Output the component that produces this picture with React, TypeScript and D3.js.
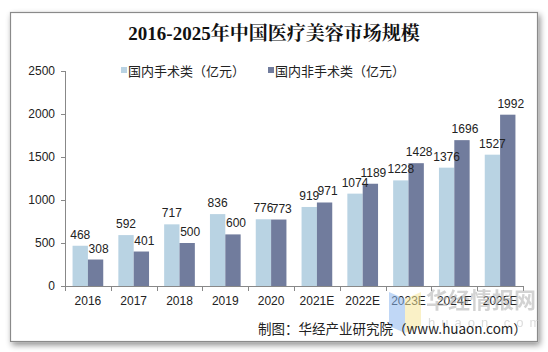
import React from "react";
import * as d3 from "d3";

const categories = ["2016", "2017", "2018", "2019", "2020", "2021E", "2022E", "2023E", "2024E", "2025E"];
const surgical = [468, 592, 717, 836, 776, 919, 1074, 1228, 1376, 1527];
const nonSurgical = [308, 401, 500, 600, 773, 971, 1189, 1428, 1696, 1992];
const yTicks = [0, 500, 1000, 1500, 2000, 2500];
const seriesNames = ["国内手术类（亿元）", "国内非手术类（亿元）"];
const colors = ["#b9d3e3", "#717c9d"];

export default function App() {
  const W = 548, H = 352;
  const left = 65, right = 523, top = 71, bottom = 286;
  const x = d3.scaleBand<string>().domain(categories).range([left, right]).paddingInner(0.33).paddingOuter(0.165);
  const y = d3.scaleLinear().domain([0, 2500]).range([bottom, top]);
  const bw = x.bandwidth() / 2;
  const step = (right - left) / categories.length;
  const font = "Arial, 'Liberation Sans', sans-serif";
  const cjk = "'Noto Sans CJK SC', sans-serif";
  return (
    <svg width={W} height={H} style={{ position: "absolute", left: 0, top: 0 }}>
      <defs>
        <filter id="sh" x="-5%" y="-5%" width="110%" height="115%">
          <feGaussianBlur in="SourceAlpha" stdDeviation="3" />
          <feOffset dx="2" dy="3" />
          <feComponentTransfer><feFuncA type="linear" slope="0.45" /></feComponentTransfer>
          <feMerge><feMergeNode /><feMergeNode in="SourceGraphic" /></feMerge>
        </filter>
      </defs>
      <rect x={0} y={0} width={W} height={H} fill="#fff" />
      <rect x={10.5} y={12.5} width={527} height={329} fill="#fff" stroke="#8a8a8a" strokeWidth={1.2} filter="url(#sh)" />
      <text x={274} y={40} textAnchor="middle" fontFamily="'Liberation Serif', 'Noto Serif CJK SC', 'Noto Sans CJK SC', serif" fontWeight="bold" fontSize={19} fill="#111">
        2016-2025年中国医疗美容市场规模
      </text>
      {/* legend */}
      {seriesNames.map((n, i) => (
        <g key={n} transform={`translate(${i === 0 ? 121 : 268},0)`}>
          <rect x={0} y={67} width={6} height={6} fill={colors[i]} />
          <text x={7} y={76} fontFamily={cjk} fontSize={13} fill="#222">{n}</text>
        </g>
      ))}
      {/* y axis */}
      <line x1={left + 0.5} x2={left + 0.5} y1={top} y2={bottom} stroke="#888" />
      {yTicks.map((t) => (
        <g key={t}>
          <line x1={left - 4} x2={left} y1={Math.round(y(t)) + 0.5} y2={Math.round(y(t)) + 0.5} stroke="#888" />
          <text x={left - 10} y={y(t) + 4} textAnchor="end" fontFamily={font} fontSize={12} fill="#222">{t}</text>
        </g>
      ))}
      {/* x axis */}
      <line x1={left} x2={right} y1={bottom + 0.5} y2={bottom + 0.5} stroke="#888" />
      {d3.range(categories.length + 1).map((i) => (
        <line key={i} x1={Math.round(left + i * step) + 0.5} x2={Math.round(left + i * step) + 0.5} y1={bottom} y2={bottom + 5} stroke="#888" />
      ))}
      {categories.map((c, i) => (
        <g key={c}>
          <rect x={x(c)!} y={y(surgical[i])} width={bw} height={bottom - y(surgical[i])} fill={colors[0]} />
          <rect x={x(c)! + bw} y={y(nonSurgical[i])} width={bw} height={bottom - y(nonSurgical[i])} fill={colors[1]} />
          <text x={x(c)! + bw / 2} y={y(surgical[i]) - 7} textAnchor="middle" fontFamily={font} fontSize={12} fill="#222">{surgical[i]}</text>
          <text x={x(c)! + bw * 1.5 + 3} y={y(nonSurgical[i]) - 7} textAnchor="middle" fontFamily={font} fontSize={12} fill="#222">{nonSurgical[i]}</text>
          <text x={x(c)! + bw} y={305} textAnchor="middle" fontFamily={font} fontSize={12} fill="#222">{c}</text>
        </g>
      ))}
      {/* watermark */}
      <g opacity={0.55}>
        <polygon points="389,292 405,299 405,333 389,326" fill="#8db8f0" />
        <polygon points="405,299 421,292 421,326 405,333" fill="#f6e79a" />
        <text x={426} y={308} fontFamily={cjk} fontWeight="bold" fontSize={22} fill="#b0b0b0">华经情报网</text>
        <text x={428} y={327} fontFamily={font} fontSize={13} letterSpacing={6} fill="#c0c0c0">huaon.com</text>
      </g>
      <text x={258} y={334} fontFamily={cjk} fontSize={13.5} fill="#222">制图：华经产业研究院（www.huaon.com）</text>
    </svg>
  );
}
